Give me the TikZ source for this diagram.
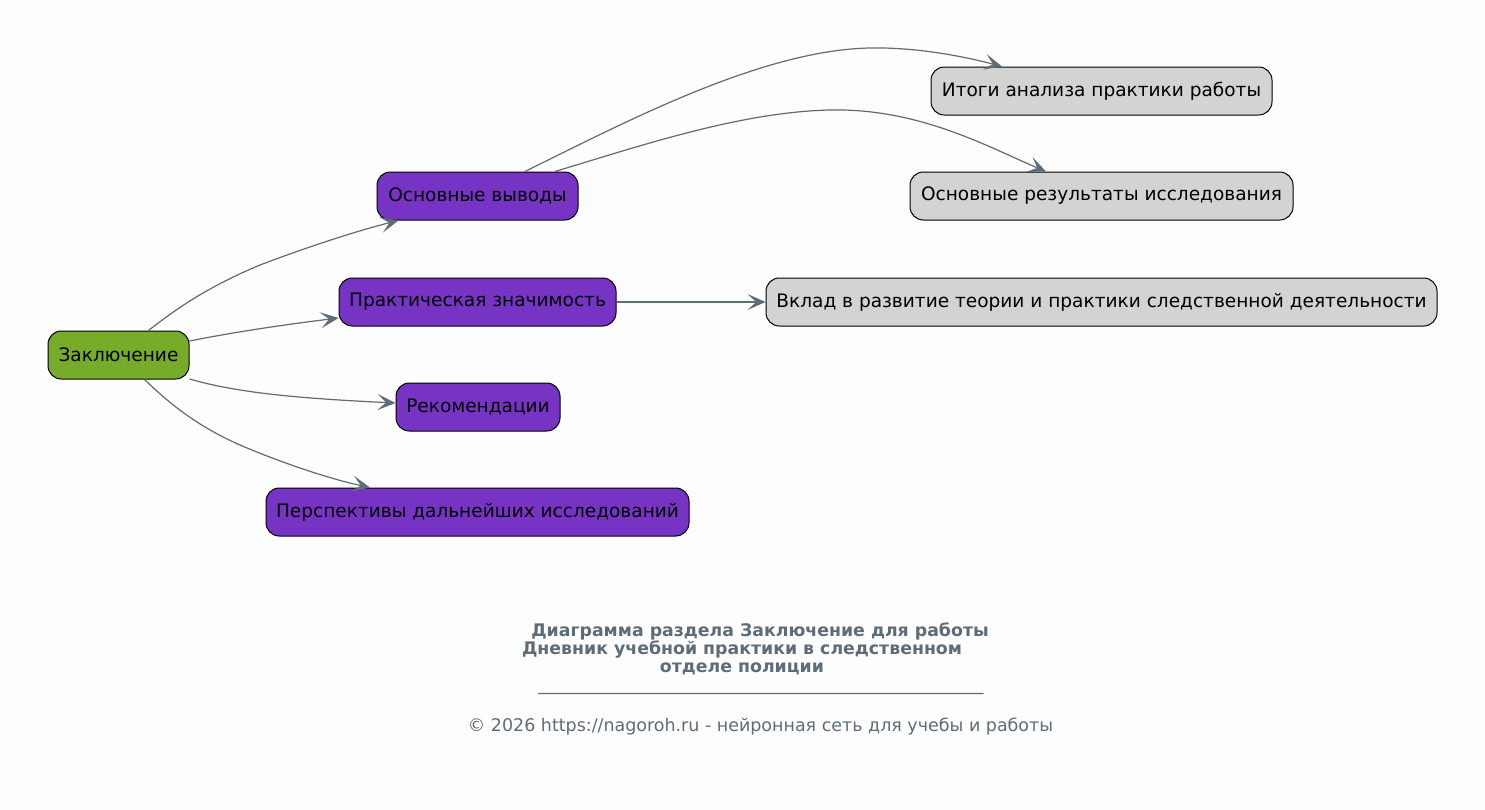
\documentclass[tikz,border=0pt]{standalone}
\usepackage{fontspec}
\setmainfont{DejaVu Sans}
\usetikzlibrary{arrows.meta}
\definecolor{bg}{HTML}{FDFDFD}
\definecolor{edgec}{HTML}{5E6C7A}
\definecolor{rootc}{HTML}{77AB2A}
\definecolor{purp}{HTML}{7733C4}
\definecolor{leafc}{HTML}{D3D3D3}
\definecolor{titlec}{HTML}{5E6C7A}
\tikzset{
  box/.style={draw=black, line width=0.75pt, rounded corners=10pt, minimum height=36pt, inner xsep=4pt, text=black, font=\fontsize{13.9}{16}\selectfont, anchor=center},
  rootbox/.style={box, fill=rootc},
  midbox/.style={box, fill=purp},
  leafbox/.style={box, fill=leafc},
  edge/.style={draw=edgec, line width=0.9pt, -{Stealth[length=13.5pt, width=12pt, inset=6.5pt]}},
  ttl/.style={text=titlec, font=\bfseries\fontsize{13}{15}\selectfont, inner sep=0pt, anchor=base},
  foot/.style={text=titlec, font=\fontsize{13.1}{15}\selectfont, inner sep=0pt, anchor=base},
}
\begin{document}
\begin{tikzpicture}[x=0.75pt, y=-0.75pt]
\fill[bg] (0,0) rectangle (1485,810);
\useasboundingbox (0,0) rectangle (1485,810);

\node[rootbox, minimum width=105.75pt] (z) at (118.5,355) {Заключение};
\node[midbox, minimum width=150.75pt] (b1) at (477.5,196) {Основные выводы};
\node[midbox, minimum width=207.75pt] (b2) at (477.5,302) {Практическая значимость};
\node[midbox, minimum width=123pt] (b3) at (478,407) {Рекомендации};
\node[midbox, minimum width=317.25pt] (b4) at (477.5,512) {Перспективы дальнейших исследований};
\node[leafbox, minimum width=255.75pt] (l1) at (1101.5,91) {Итоги анализа практики работы};
\node[leafbox, minimum width=287.25pt] (l2) at (1101.5,196) {Основные результаты исследования};
\node[leafbox, minimum width=503.25pt] (l3) at (1101.5,302) {Вклад в развитие теории и практики следственной деятельности};

\draw[edge] ([xshift=22.5pt]z.north) .. controls (175,310) and (205,288) .. (260,265)
  .. controls (310,246) and (360,230) .. ([xshift=-59.25pt]b1.south);
\draw[edge] ([yshift=10.5pt]z.east) .. controls (240,331) and (290,324) .. ([yshift=-12pt]b2.west);
\draw[edge] ([yshift=-18pt]z.east) .. controls (235,392) and (290,398) .. ([yshift=3pt]b3.west);
\draw[edge] ([xshift=19.5pt]z.south) .. controls (170,404) and (197,426) .. (240,445)
  .. controls (282,463) and (330,479) .. ([xshift=-80.6pt]b4.north);
\draw[edge] ([xshift=35.5pt]b1.north) .. controls (620,125) and (760,50) .. (870,48)
  .. controls (920,47) and (970,58) .. ([xshift=-74.6pt]l1.north);
\draw[edge] ([xshift=58pt]b1.north) .. controls (640,146) and (740,112) .. (830,110)
  .. controls (920,108) and (990,148) .. ([xshift=-41.6pt]l2.north);
\draw[edge] (b2.east) -- (l3.west);

\node[ttl] (t1) at (760,636) {Диаграмма раздела Заключение для работы};
\node[ttl] (t2) at (742,654) {Дневник учебной практики в следственном};
\node[ttl] (t3) at (742,672) {отделе полиции};
\node[foot] (t4) at (761,690) {\_\_\_\_\_\_\_\_\_\_\_\_\_\_\_\_\_\_\_\_\_\_\_\_\_\_\_\_\_\_\_\_\_\_\_\_\_\_\_\_\_\_\_\_\_\_\_\_\_\_\_};
\node[foot] (t5) at (760.5,731) {© 2026 https://nagoroh.ru - нейронная сеть для учебы и работы};
\end{tikzpicture}
\end{document}
